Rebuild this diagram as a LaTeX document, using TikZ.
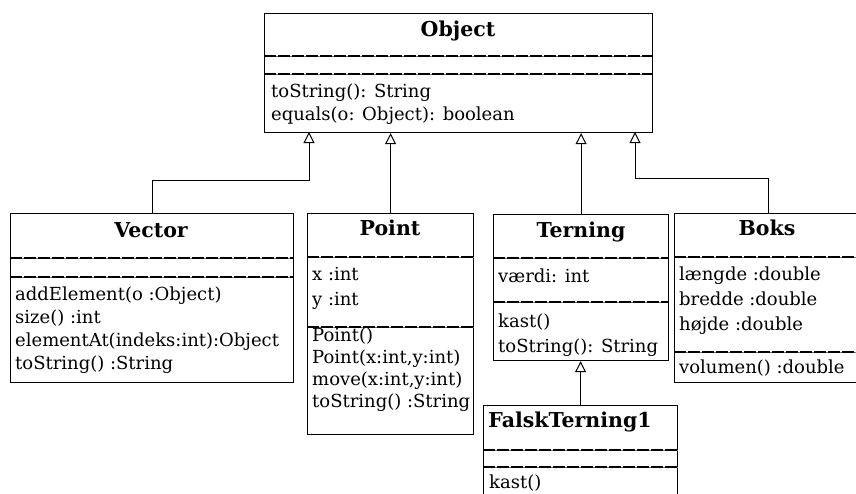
\documentclass[tikz,border=0pt]{standalone}
\usepackage{fontspec}
\setmainfont{DejaVu Serif}
\usetikzlibrary{arrows.meta}

\begin{document}
\begin{tikzpicture}[
    x=1pt, y=-1pt,
    >={Triangle[open, length=11pt, width=11pt]},
    classbox/.style={
        rectangle, draw=black, line width=1.2pt, anchor=north west,
        inner sep=0pt, fill=white
    },
    classname/.style={
        anchor=base, font=\fontsize{20.5}{22}\selectfont\bfseries, inner sep=0pt
    },
    % anchor is the baseline of the last line
    member/.style={
        anchor=base west, align=left, inner sep=0pt,
        font=\fontsize{18}{#1}\selectfont
    },
    member/.default=23,
    divider/.style={
        line width=1.2pt, dash pattern=on 12pt off 2pt,
        preaction={draw, solid, line width=0.5pt, black!55}
    },
    inherit/.style={->, line width=1pt}
]
\clip (0,0) rectangle (856,493);

% -- Object --
\node[classbox, minimum width=388pt, minimum height=119pt] (object) at (264,13) {};
\node[classname] (objectname) at (458,36) {Object};
\draw[divider] ([yshift=-43pt]object.north west) -- ([yshift=-43pt]object.north east);
\draw[divider] ([yshift=-61pt]object.north west) -- ([yshift=-61pt]object.north east);
\node[member] (objectops) at (271,120) {toString(): String\\equals(o: Object): boolean};

% -- Vector --
\node[classbox, minimum width=283pt, minimum height=169pt] (vector) at (10,213) {};
\node[classname] (vectorname) at (151,237) {Vector};
\draw[divider] ([yshift=-45pt]vector.north west) -- ([yshift=-45pt]vector.north east);
\draw[divider] ([yshift=-64pt]vector.north west) -- ([yshift=-64pt]vector.north east);
\node[member] (vectorops) at (15,369) {addElement(o :Object)\\size() :int\\elementAt(indeks:int):Object\\toString() :String};

% -- Point --
\node[classbox, minimum width=166pt, minimum height=221pt] (point) at (307,213) {};
\node[classname] (pointname) at (390,235) {Point};
\draw[divider] ([yshift=-44pt]point.north west) -- ([yshift=-44pt]point.north east);
\draw[divider] ([yshift=-114pt]point.north west) -- ([yshift=-114pt]point.north east);
\node[member=25] (pointattr) at (312,305) {x :int\\y :int};
\node[member=21.7] (pointops) at (312,407) {Point()\\Point(x:int,y:int)\\move(x:int,y:int)\\toString() :String};

% -- Terning --
\node[classbox, minimum width=175pt, minimum height=146pt] (terning) at (493,214) {};
\node[classname] (terningname) at (581,237) {Terning};
\draw[divider] ([yshift=-44pt]terning.north west) -- ([yshift=-44pt]terning.north east);
\draw[divider] ([yshift=-88pt]terning.north west) -- ([yshift=-88pt]terning.north east);
\node[member] (terningattr) at (498,282) {værdi: int};
\node[member=25] (terningops) at (498,352) {kast()\\toString(): String};

% -- Boks --
\node[classbox, minimum width=188pt, minimum height=169pt] (boks) at (674,213) {};
\node[classname] (boksname) at (767,235) {Boks};
\draw[divider] ([yshift=-44pt]boks.north west) -- ([yshift=-44pt]boks.north east);
\draw[divider] ([yshift=-139pt]boks.north west) -- ([yshift=-139pt]boks.north east);
\node[member=25] (boksattr) at (679,330) {længde :double\\bredde :double\\højde :double};
\node[member] (boksops) at (679,373) {volumen() :double};

% -- FalskTerning1 --
\node[classbox, minimum width=194pt, minimum height=120pt] (falsk) at (483,405) {};
\node[classname] (falskname) at (570,427) {FalskTerning1};
\draw[divider] ([yshift=-45pt]falsk.north west) -- ([yshift=-45pt]falsk.north east);
\draw[divider] ([yshift=-62pt]falsk.north west) -- ([yshift=-62pt]falsk.north east);
\node[member] (falskops) at (489,488) {kast()};

% -- generalisation arrows --
\coordinate (objV) at (309,132);
\coordinate (objB) at (635,132);
\draw[inherit] (vector.north) -- ++(0,-33) -| (objV);
\draw[inherit] (point.north) -- (object.south -| point.north);
\draw[inherit] (terning.north) -- (object.south -| terning.north);
\draw[inherit] (boks.north) -- ++(0,-35) -| (objB);
\draw[inherit] (falsk.north) -- (terning.south -| falsk.north);

\end{tikzpicture}
\end{document}
